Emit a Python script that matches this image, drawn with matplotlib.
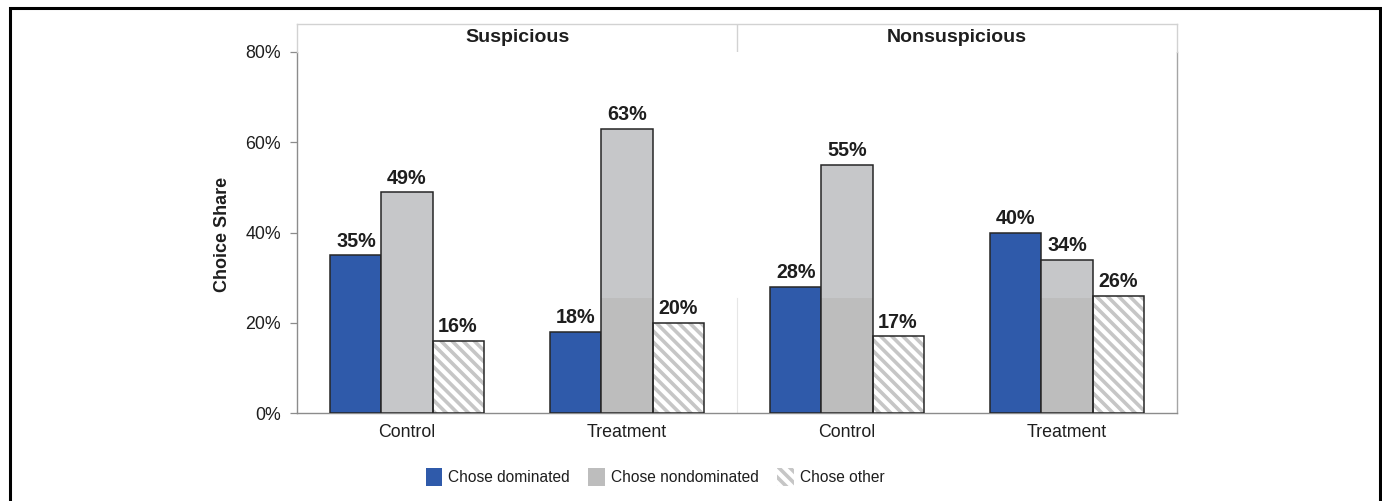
import matplotlib
matplotlib.use("Agg")
import matplotlib.pyplot as plt
from matplotlib.patches import Patch, Rectangle
from matplotlib.ticker import PercentFormatter
import numpy as np

# ---- data -------------------------------------------------------------
conditions = ["Suspicious", "Nonsuspicious"]
arms = ["Control", "Treatment", "Control", "Treatment"]
dominated = [35, 18, 28, 40]
nondominated = [49, 63, 55, 34]
other = [16, 20, 17, 26]
series_names = ["Chose dominated", "Chose nondominated", "Chose other"]

# ---- styling ----------------------------------------------------------
plt.rcParams["font.family"] = ["Liberation Sans", "DejaVu Sans"]
plt.rcParams["hatch.linewidth"] = 2.6
BLUE = "#2f5aaa"
GRAY = "#c6c7c9"
GRAY_LOW = "#bdbdbd"
HATCH_GRAY = "#c6c6c6"
HATCH = "\\\\\\"
EDGE = "#262626"
TEXT = "#1e1e1e"
SHADE_LEVEL = 25.5

W, H = 1382, 501
fig = plt.figure(figsize=(W / 100, H / 100), dpi=100)

left, right, top, bottom = 297, 1177, 52, 413
ax = fig.add_axes([left / W, (H - bottom) / H, (right - left) / W, (bottom - top) / H])

x = np.arange(len(arms))
bw = 0.232

# dominated
ax.bar(x - bw, dominated, bw, color=BLUE, edgecolor=EDGE, linewidth=1.1, zorder=3)

# nondominated, with a slightly darker lower tone in the later groups
ax.bar(x, nondominated, bw, color=GRAY, edgecolor="none", linewidth=0, zorder=3)
low = [min(v, SHADE_LEVEL) if i > 0 else 0 for i, v in enumerate(nondominated)]
ax.bar(x, low, bw, color=GRAY_LOW, edgecolor="none", linewidth=0, zorder=3)
ax.bar(x, nondominated, bw, fill=False, edgecolor=EDGE, linewidth=1.1, zorder=4)

# other (hatched)
ax.bar(x + bw, other, bw, color="white", edgecolor=HATCH_GRAY, hatch=HATCH,
       linewidth=0, zorder=3)
ax.bar(x + bw, other, bw, fill=False, edgecolor=EDGE, linewidth=1.1, zorder=4)

# value labels
for offs, vals in ((-bw, dominated), (0, nondominated), (bw, other)):
    for xi, v in zip(x, vals):
        ax.annotate(f"{v}%", (xi + offs, v), xytext=(0, 6), textcoords="offset points",
                    ha="center", va="baseline", fontsize=14.2, fontweight="bold",
                    color=TEXT, zorder=5)

# faint divider in lower part
ax.plot([1.5, 1.5], [0, SHADE_LEVEL], color="#e6e6e6", linewidth=0.8, zorder=1)

ax.set_xlim(-0.5, 3.5)
ax.set_ylim(0, 80)
ax.set_yticks([0, 20, 40, 60, 80])
ax.yaxis.set_major_formatter(PercentFormatter(decimals=0))
ax.set_xticks(x)
ax.set_xticklabels(arms)
ax.tick_params(axis="y", length=5, width=0.9, color="#8c8c8c", pad=6.5,
               labelsize=12.8, labelcolor=TEXT)
ax.tick_params(axis="x", length=0, pad=8, labelsize=12.8, labelcolor=TEXT)

for s in ("left", "bottom"):
    ax.spines[s].set_color("#8c8c8c")
    ax.spines[s].set_linewidth(1.0)
ax.spines["right"].set_color("#a5a5a5")
ax.spines["right"].set_linewidth(1.0)
ax.spines["top"].set_visible(False)

ax.set_ylabel("Choice Share", fontsize=13, fontweight="bold", color=TEXT)
ax.yaxis.set_label_coords(-0.0745, 0.495)

# header strip with panel titles
hdr_top = 24
hax = fig.add_axes([left / W, (H - top) / H, (right - left) / W, (top - hdr_top) / H])
hax.set_xlim(-0.5, 3.5)
hax.set_ylim(0, 1)
hax.set_xticks([])
hax.set_yticks([])
for s in ("left", "right", "top"):
    hax.spines[s].set_color("#d2d2d2")
    hax.spines[s].set_linewidth(1.0)
hax.spines["bottom"].set_visible(False)
hax.axvline(1.5, color="#d2d2d2", linewidth=1.0)
for cx, name in zip([0.5, 2.5], conditions):
    hax.text(cx, 0.5, name, ha="center", va="center", fontsize=14,
             fontweight="bold", color=TEXT)

# legend
handles = [
    Patch(facecolor=BLUE, edgecolor="none", label=series_names[0]),
    Patch(facecolor="#bdbdbd", edgecolor="none", label=series_names[1]),
    Patch(facecolor="white", edgecolor=HATCH_GRAY, hatch=HATCH, linewidth=0,
          label=series_names[2]),
]
fig.legend(handles=handles, loc="center", bbox_to_anchor=(655 / W, (H - 477) / H),
           ncol=3, frameon=False, fontsize=11.2, handlelength=1.05,
           handleheight=1.35, handletextpad=0.4, columnspacing=1.2,
           labelcolor=TEXT)

# outer frame
fig.patches.append(Rectangle((10 / W, -0.05), (1379.5 - 10) / W, (H - 8) / H + 0.05,
                             transform=fig.transFigure, fill=False,
                             edgecolor="black", linewidth=2.2))

fig.savefig("out.png", dpi=100, facecolor="white")
